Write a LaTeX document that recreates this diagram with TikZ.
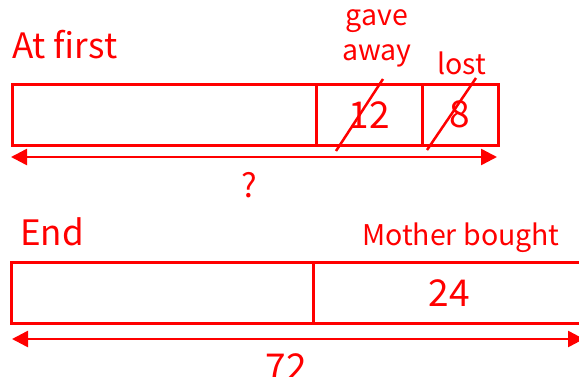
\documentclass[tikz,border=0pt]{standalone}
\usepackage{fontspec}
\setmainfont{Noto Sans CJK JP}
\usetikzlibrary{positioning}
\usetikzlibrary{arrows.meta}
\tikzset{>=latex}

\begin{document}
\begin{tikzpicture}[
    x=1pt, y=-1pt,
    bar/.style={
        draw=red, line width=2.5pt, minimum height=61pt, inner sep=0pt,
        anchor=north west, text=red, font=\fontsize{37}{40}\selectfont
    },
    title/.style={text=red, anchor=west, inner sep=0pt, font=\fontsize{35}{38}\selectfont},
    tag/.style={text=red, inner sep=0pt, align=center, font=\fontsize{28.5}{35}\selectfont},
    span/.style={{Triangle[length=16pt,width=16pt]}-{Triangle[length=16pt,width=16pt]}, draw=red, line width=2.5pt},
    strike/.style={draw=red, line width=2.5pt},
]
\useasboundingbox (0,0) rectangle (579,376);

% At first
\node[title] (first) at (12,45) {At first};
\node[bar, minimum width=304pt] (rest)  at (11,83)  {};
\node[bar, minimum width=106pt] (given) at (315,83) {12};
\node[bar, minimum width=76pt]  (lost)  at (421,83) {8};

\node[tag] (gave) at (377,38) {gave\\away};
\node[tag] (lostlbl) at (462,63) {lost};

% crossed out
\draw[strike] (336,151) -- (383,79);
\draw[strike] (427,150) -- (476,78);

\coordinate (q-l) at (11,157);
\coordinate (q-r) at (497,157);
\draw[span] (q-l) -- (q-r);
\node[tag, font=\fontsize{33}{36}\selectfont] (q) at (249,185) {?};

% End
\node[title] (end) at (20,232) {End};
\node[bar, minimum width=302pt] (left)   at (10,261)  {};
\node[bar, minimum width=272pt] (bought) at (312,261) {24};
\node[tag] (mother) at (461,238) {Mother bought};

\coordinate (t-l) at (12,339);
\coordinate (t-r) at (584,339);
\draw[span] (t-l) -- (t-r);
\node[tag, font=\fontsize{37}{40}\selectfont] (total) at (286,367) {72};

\end{tikzpicture}
\end{document}
